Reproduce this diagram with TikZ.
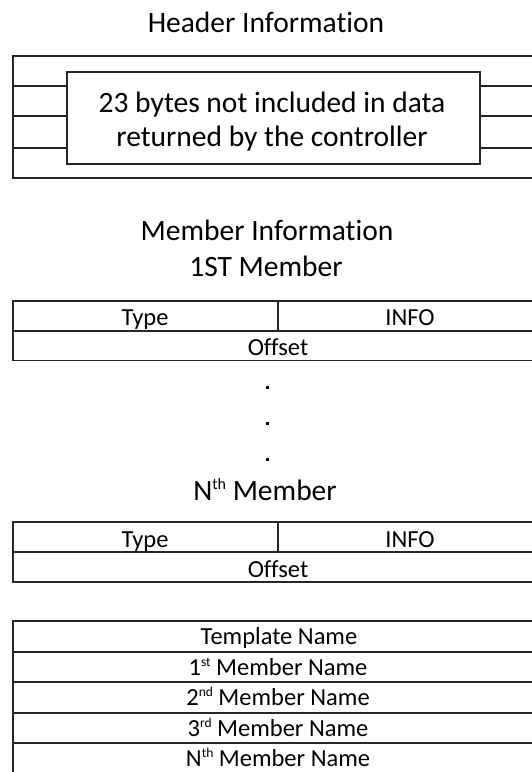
\documentclass[tikz,border=0pt]{standalone}
\usepackage{fontspec}
\setmainfont[Ligatures=NoCommon]{Carlito}
\newcommand\supT[1]{\raisebox{0.36em}{\fontsize{16}{16}\selectfont #1}}
\newcommand\supC[1]{\raisebox{0.36em}{\fontsize{13.5}{14}\selectfont #1}}
\begin{document}
\begin{tikzpicture}[x=1pt,y=-1pt,
  tline/.style={draw=black!85, line width=1.6pt},
  ttl/.style={font=\fontsize{29.5}{34}\selectfont, anchor=base, inner sep=0pt},
  cell/.style={font=\fontsize{24.5}{28}\selectfont, anchor=base, inner sep=0pt},
  dotmark/.style={fill=black!80!blue, inner sep=0pt, minimum size=3pt}]
\useasboundingbox (0,0) rectangle (532,772);
\clip (0,0) rectangle (532,772);
% Header
\node[ttl] (hdr) at (266,32) {Header Information};
\draw[tline] (12.7,55.7) rectangle (546,177.7);
\foreach \y in {85.7,116,147.7} {
  \draw[tline] (12.7,\y) -- (67,\y);
  \draw[tline] (480,\y) -- (546,\y);
}
\node[draw=black!85, line width=1.6pt, fill=white, minimum width=413pt, minimum height=92pt] (inner) at (273.5,118) {};
\node[ttl] (l1) at (272,112) {23 bytes not included in data};
\node[ttl] (l2) at (272,146.5) {returned by the controller};
% Member info
\node[ttl] (mi) at (267,240.7) {Member Information};
\node[ttl] (m1) at (266,276) {1ST Member};
\draw[tline] (12.7,300.7) rectangle (546,360.5);
\draw[tline] (12.7,330.7) -- (546,330.7);
\draw[tline] (277.7,300.7) -- (277.7,330.7);
\node[cell] (t1) at (145,325) {Type};
\node[cell] (i1) at (410,325) {INFO};
\node[cell] (o1) at (278,355) {Offset};
% dots
\node[dotmark] (d1) at (267,387) {};
\node[dotmark] (d2) at (267,423) {};
\node[dotmark] (d3) at (267,459) {};
\node[ttl] (mn) at (265,500) {N\supT{th} Member};
\draw[tline] (12.7,522) rectangle (546,582);
\draw[tline] (12.7,552) -- (546,552);
\draw[tline] (277.7,522) -- (277.7,552);
\node[cell] (t2) at (145,547) {Type};
\node[cell] (i2) at (410,547) {INFO};
\node[cell] (o2) at (278,577) {Offset};
% names table
\draw[tline] (12.7,620.7) rectangle (546,780);
\foreach \y in {652,682,712.7,742.7} {
  \draw[tline] (12.7,\y) -- (546,\y);
}
\node[cell] (tn) at (279,644.5) {Template Name};
\node[cell] (n1) at (278,675) {1\supC{st} Member Name};
\node[cell] (n2) at (278,705.5) {2\supC{nd} Member Name};
\node[cell] (n3) at (278,736) {3\supC{rd} Member Name};
\node[cell] (nn) at (278,766.5) {N\supC{th} Member Name};
\end{tikzpicture}
\end{document}
